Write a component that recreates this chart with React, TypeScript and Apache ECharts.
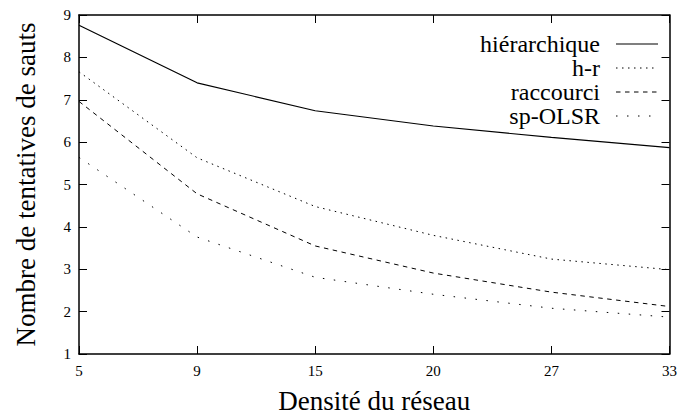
import React, { useEffect, useRef } from "react";
import * as echarts from "echarts";

const categories = ["5", "9", "15", "20", "27", "33"];
const seriesNames = ["hiérarchique", "h-r", "raccourci", "sp-OLSR"];
const hierarchique = [8.76, 7.4, 6.74, 6.38, 6.11, 5.87];
const hr = [7.66, 5.63, 4.48, 3.8, 3.24, 2.99];
const raccourci = [6.96, 4.78, 3.55, 2.91, 2.46, 2.12];
const spOlsr = [5.64, 3.76, 2.81, 2.41, 2.08, 1.87];
const yTicks = [1, 9];

const seriesData = [hierarchique, hr, raccourci, spOlsr];
const dashes: (number[] | null)[] = [null, [1.5, 4.5], [4.5, 4.5], [1.5, 9.5]];
const widths = [1.2, 1, 1, 1];

export default function App() {
  const ref = useRef<HTMLDivElement>(null);
  useEffect(() => {
    if (!ref.current) return;
    const chart = echarts.init(ref.current, null, { renderer: "svg" });
    const serif = "Liberation Serif";
    const axisLine = { show: true, lineStyle: { color: "#000", width: 1.5 } };
    const tick = { show: true, inside: true, length: 8, lineStyle: { color: "#000", width: 1 } };

    const legendGraphics: any[] = [];
    seriesNames.forEach((name, i) => {
      const y = 44 + i * 24;
      legendGraphics.push({
        type: "text",
        x: 600,
        y: y,
        style: {
          text: name,
          fontFamily: serif,
          fontSize: 24,
          lineHeight: 22,
          fill: "#000",
          align: "right",
          verticalAlign: "middle",
        },
      });
      legendGraphics.push({
        type: "line",
        shape: { x1: 616, y1: y, x2: 658, y2: y },
        style: {
          stroke: "#000",
          lineWidth: widths[i],
          lineDash: dashes[i] || undefined,
        },
      });
    });

    chart.setOption({
      animation: false,
      backgroundColor: "#fff",
      grid: { left: 79, right: 8, top: 15, bottom: 59 },
      xAxis: [
        {
          type: "category",
          data: categories,
          boundaryGap: false,
          axisLine,
          axisTick: { ...tick, alignWithLabel: true },
          axisLabel: { color: "#000", fontFamily: serif, fontSize: 15, margin: 9 },
          splitLine: { show: false },
          name: "Densité du réseau",
          nameLocation: "middle",
          nameGap: 33,
          nameTextStyle: { color: "#000", fontFamily: serif, fontSize: 27 },
        },
        {
          type: "category",
          data: categories,
          boundaryGap: false,
          position: "top",
          axisLine,
          axisTick: tick,
          axisLabel: { show: false },
          splitLine: { show: false },
        },
      ],
      yAxis: [
        {
          type: "value",
          min: yTicks[0],
          max: yTicks[1],
          interval: 1,
          axisLine,
          axisTick: tick,
          axisLabel: { color: "#000", fontFamily: serif, fontSize: 15, margin: 8 },
          splitLine: { show: false },
          name: "Nombre de tentatives de sauts",
          nameLocation: "middle",
          nameGap: 40,
          nameTextStyle: { color: "#000", fontFamily: serif, fontSize: 27 },
        },
        {
          type: "value",
          min: yTicks[0],
          max: yTicks[1],
          interval: 1,
          position: "right",
          axisLine,
          axisTick: tick,
          axisLabel: { show: false },
          splitLine: { show: false },
        },
      ],
      series: seriesNames.map((name, i) => ({
        name,
        type: "line",
        data: seriesData[i],
        symbol: "none",
        lineStyle: {
          color: "#000",
          width: widths[i],
          type: dashes[i] || "solid",
        },
      })),
      graphic: legendGraphics,
    });
    return () => chart.dispose();
  }, []);
  return (
    <div
      ref={ref}
      style={{ position: "absolute", left: 0, top: 0, width: 680, height: 419 }}
    />
  );
}
